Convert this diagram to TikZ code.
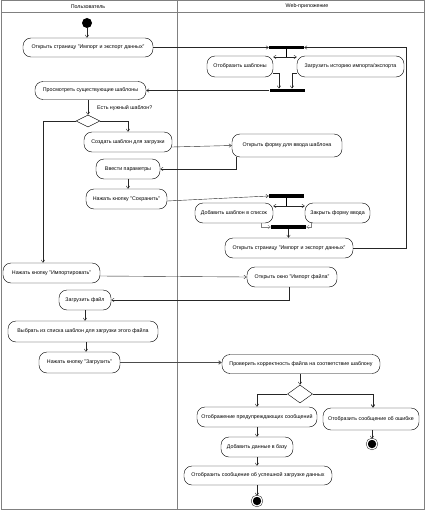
\documentclass[tikz,border=0pt]{standalone}
\usepackage{fontspec}
\setmainfont{Liberation Sans}
\usetikzlibrary{shapes.geometric,arrows.meta,calc}
\newcommand{\acth}{20pt}
\newcommand{\actfont}{\fontsize{5.3}{6}\selectfont}
\tikzset{
    actsty/.style={draw,rounded corners=8pt,minimum height=\acth,inner sep=1pt,font=\actfont,anchor=center},
    barsty/.style={fill=black,rectangle,minimum width=35pt,minimum height=3.5pt,inner sep=0pt},
    decsty/.style={draw,diamond,inner sep=0pt,minimum width=24pt},
    startsty/.style={fill=black,circle,minimum size=10pt,inner sep=0pt},
    endsty/.style={circle,draw=black,fill=black,double=white,double distance=1.2pt,minimum size=10pt,inner sep=0pt},
    flowsty/.style={->,draw=black!85,line width=0.4pt},
    lanesty/.style={draw=gray,line width=0.8pt},
    namesty/.style={font=\actfont,inner sep=1pt},
}

\begin{document}
\begin{tikzpicture}[x=1pt,y=-1pt,>={Straight Barb[length=2.5pt,width=3.5pt]}]
  \useasboundingbox (0,0) rectangle (426,511);
  \draw[lanesty,line width=1pt] (1,1) rectangle (424,509);
  \draw[lanesty] (177,1) -- (177,509);
  \draw[lanesty] (1,12) -- (424,12);
  \node[namesty] (usrlane) at (88,6.5) {Пользователь};
  \node[namesty] (weblane) at (307,6.5) {Web-приложение};

  % user lane
  \node[startsty] (start) at (87,23) {};
  \node[actsty,minimum width=130pt,minimum height=19pt] (openpage) at (88,47.5) {Открыть страницу "Импорт и экспорт данных"};
  \node[actsty,minimum width=111pt,minimum height=18pt] (review) at (90.5,90.5) {Просмотреть существующие шаблоны};
  \node[decsty,minimum height=12pt] (dec1) at (88,121) {};
  \node[namesty,anchor=west] (dec1q) at (96,108) {Есть нужный шаблон?};
  \node[actsty,minimum width=88pt] (create) at (128,142) {Создать шаблон для загрузки};
  \node[actsty,minimum width=64pt] (params) at (128,169) {Ввести параметры};
  \node[actsty,minimum width=81pt] (save) at (126.5,199) {Нажать кнопку "Сохранить"};
  \node[actsty,minimum width=97pt] (importbtn) at (51.5,273) {Нажать кнопку "Импортировать"};
  \node[actsty,minimum width=52pt] (loadfile) at (85,300) {Загрузить файл};
  \node[actsty,minimum width=150pt,minimum height=21pt] (choose) at (83,331.5) {Выбрать из списка шаблон для загрузки этого файла};
  \node[actsty,minimum width=81pt,minimum height=21pt] (upload) at (79.5,362.5) {Нажать кнопку "Загрузить"};

  % web lane
  \node[barsty] (fork1) at (286.5,47.5) {};
  \node[actsty,minimum width=66pt,minimum height=21pt] (showtpl) at (240,66.5) {Отобразить шаблоны};
  \node[actsty,minimum width=107pt,minimum height=21pt] (history) at (350.5,66.5) {Загрузить историю импорта/экспорта};
  \node[barsty] (join1) at (287,90.5) {};
  \node[actsty,minimum width=110pt,minimum height=23pt] (form) at (287,145.5) {Открыть форму для ввода шаблона};
  \node[barsty,minimum height=4pt] (fork2) at (286.5,196) {};
  \node[actsty,minimum width=78pt] (addtpl) at (234,213) {Добавить шаблон в список};
  \node[actsty,minimum width=65pt] (closeform) at (337.5,213) {Закрыть форму ввода};
  \node[barsty,minimum height=4pt] (join2) at (288.5,227) {};
  \node[actsty,minimum width=128pt] (openpage2) at (289,248) {Открыть страницу "Импорт и экспорт данных"};
  \node[actsty,minimum width=90pt] (importwin) at (292,277) {Открыть окно "Импорт файла"};
  \node[actsty,minimum width=158pt,minimum height=19pt] (check) at (301,364) {Проверить корректность файла на соответствие шаблону};
  \node[decsty,minimum width=25pt,minimum height=18pt] (dec2) at (300,394) {};
  \node[actsty,minimum width=120pt] (warn) at (257,417) {Отображение предупреждающих сообщений};
  \node[actsty,minimum width=96pt,minimum height=22pt] (errmsg) at (371,419) {Отобразить сообщение об ошибке};
  \node[endsty] (end1) at (372,444) {};
  \node[actsty,minimum width=72pt] (adddb) at (257,447) {Добавить данные в базу};
  \node[actsty,minimum width=148pt,minimum height=19pt] (success) at (258,475.5) {Отобразить сообщение об успешной загрузке данных};
  \node[endsty] (end2) at (257,501) {};

  \coordinate (f1c) at (286.5,57);
  \coordinate (f2c) at (286.5,206);
  \coordinate (backpt) at (406,47.5);

  \draw[flowsty] (start) -- (start |- openpage.north);
  \draw[flowsty] (openpage.east) -- (fork1.west);
  \draw (fork1.south) -- (f1c);
  \draw[flowsty] (f1c) -- (showtpl.east |- f1c);
  \draw[flowsty] (f1c) -- (history.west |- f1c);
  \draw[flowsty] ([yshift=-6.5pt]showtpl.east) -| ([xshift=-8pt]join1.north);
  \draw[flowsty] ([yshift=-6.5pt]history.west) -| ([xshift=5pt]join1.north);
  \draw[flowsty] (join1.west) -- (review.east);
  \draw[flowsty] (openpage2.east) -| (backpt) -- (fork1.east);
  \draw[flowsty] (review.south -| dec1.north) -- (dec1.north);
  \draw[flowsty] (dec1.east) -| (create.north);
  \draw[flowsty] (dec1.west) -| ([xshift=-8.5pt]importbtn.north);
  \draw[flowsty] ([yshift=-5pt]create.east) -- (form.west);
  \draw[flowsty] ([xshift=4pt]form.south west) |- (params.east);
  \draw[flowsty] (params.south) -- (params.south |- save.north);
  \draw[flowsty] ([yshift=-2pt]save.east) -- (fork2.west);
  \draw (fork2.south) -- (f2c);
  \draw[flowsty] (f2c) -- (addtpl.east |- f2c);
  \draw[flowsty] (f2c) -- (closeform.west |- f2c);
  \draw[flowsty,draw=gray] ([xshift=-12pt]addtpl.south east) |- (join2.west);
  \draw[flowsty,draw=gray] ([xshift=6pt]closeform.south west) |- (join2.east);
  \draw[flowsty] (join2.south) -- (join2.south |- openpage2.north);
  \draw[flowsty] ([yshift=-3pt]importbtn.east) -- (importwin.west);
  \draw[flowsty] ([xshift=-3pt]importwin.south) |- (loadfile.east);
  \draw[flowsty] (loadfile.south) -- (loadfile.south |- choose.north);
  \draw[flowsty] ([xshift=3pt]choose.south) -- ([xshift=3pt]choose.south |- upload.north);
  \draw[flowsty,draw=black!70,line width=0.8pt] (upload.east) -- (upload.east -| check.west);
  \draw[flowsty] (check.south -| dec2.north) -- (dec2.north);
  \draw[flowsty] (dec2.west) -| (warn.north);
  \draw[flowsty,line width=0.8pt] (dec2.east) -| ([xshift=2pt]errmsg.north);
  \draw[flowsty] ([xshift=1pt]errmsg.south) -- (end1);
  \draw[flowsty] (warn) -- (adddb);
  \draw[flowsty] (adddb) -- (adddb.south |- success.north);
  \draw[flowsty] (success.south -| end2) -- (end2);
\end{tikzpicture}
\end{document}
